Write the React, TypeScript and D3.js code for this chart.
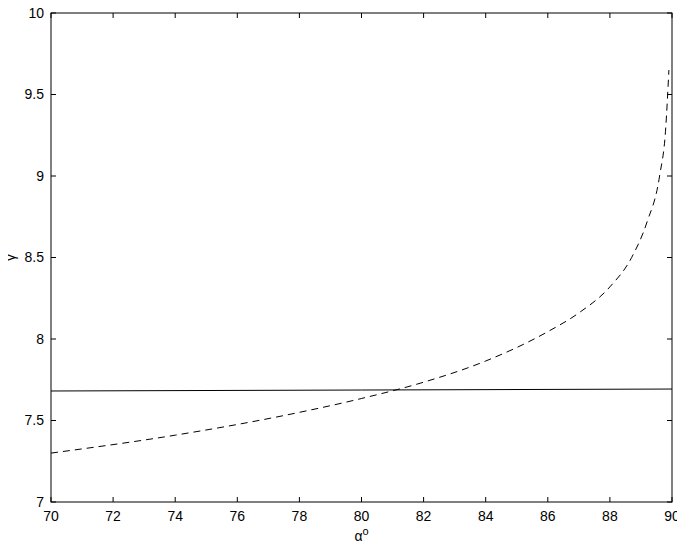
import * as d3 from "d3";
import { useEffect, useRef } from "react";

// x axis: alpha in degrees
const xTicks = [70, 72, 74, 76, 78, 80, 82, 84, 86, 88, 90];
const yTicks = [7, 7.5, 8, 8.5, 9, 9.5, 10];

// solid curve (nearly flat)
const solidAlpha = [70, 80, 90];
const solidGamma = [7.681, 7.687, 7.693];

// dashed curve
const dashAlpha = [70, 74, 78, 80, 82, 84, 86, 87, 88, 88.7, 89.2, 89.6, 89.8, 89.9];
const dashGamma = [7.3, 7.41, 7.55, 7.635, 7.735, 7.865, 8.045, 8.16, 8.32, 8.5, 8.72, 9.0, 9.3, 9.65];

export default function App() {
  const ref = useRef<SVGSVGElement>(null);

  useEffect(() => {
    const width = 685;
    const height = 549;
    const m = { left: 51, right: 13, top: 13, bottom: 47 };

    const svg = d3.select(ref.current)
      .attr("width", width)
      .attr("height", height)
      .style("font-family", "'Liberation Sans', Arial, sans-serif");
    svg.selectAll("*").remove();

    const x = d3.scaleLinear().domain([70, 90]).range([m.left, width - m.right]);
    const y = d3.scaleLinear().domain([7, 10]).range([height - m.bottom, m.top]);

    svg.append("rect").attr("width", width).attr("height", height).attr("fill", "#fff");

    // box
    svg.append("rect")
      .attr("x", x(70)).attr("y", y(10))
      .attr("width", x(90) - x(70)).attr("height", y(7) - y(10))
      .attr("fill", "none").attr("stroke", "#000").attr("stroke-width", 1);

    const tl = 5;
    // x ticks (bottom and top, inward)
    const gx = svg.append("g");
    xTicks.forEach(t => {
      gx.append("line").attr("x1", x(t)).attr("x2", x(t)).attr("y1", y(7)).attr("y2", y(7) - tl).attr("stroke", "#000");
      gx.append("line").attr("x1", x(t)).attr("x2", x(t)).attr("y1", y(10)).attr("y2", y(10) + tl).attr("stroke", "#000");
      gx.append("text").attr("x", x(t)).attr("y", y(7) + 19).attr("text-anchor", "middle")
        .attr("font-size", 14).text(t);
    });

    const gy = svg.append("g");
    yTicks.forEach(t => {
      gy.append("line").attr("x1", x(70)).attr("x2", x(70) + tl).attr("y1", y(t)).attr("y2", y(t)).attr("stroke", "#000");
      gy.append("line").attr("x1", x(90)).attr("x2", x(90) - tl).attr("y1", y(t)).attr("y2", y(t)).attr("stroke", "#000");
      gy.append("text").attr("x", x(70) - 7).attr("y", y(t)).attr("dy", "0.35em").attr("text-anchor", "end")
        .attr("font-size", 14).text(t);
    });

    const line = d3.line<[number, number]>()
      .x(d => x(d[0]))
      .y(d => y(d[1]))
      .curve(d3.curveMonotoneX);

    svg.append("path")
      .attr("d", line(solidAlpha.map((a, i) => [a, solidGamma[i]] as [number, number])))
      .attr("fill", "none").attr("stroke", "#000").attr("stroke-width", 1);

    svg.append("path")
      .attr("d", line(dashAlpha.map((a, i) => [a, dashGamma[i]] as [number, number])))
      .attr("fill", "none").attr("stroke", "#000").attr("stroke-width", 1)
      .attr("stroke-dasharray", "7,5");

    // axis labels
    const xl = svg.append("text").attr("x", (x(70) + x(90)) / 2).attr("y", y(7) + 39)
      .attr("text-anchor", "middle").attr("font-size", 14);
    xl.append("tspan").text("α");
    xl.append("tspan").attr("dy", -6).attr("font-size", 11).text("o");

    svg.append("text")
      .attr("transform", `translate(15,${(y(7) + y(10)) / 2}) rotate(-90)`)
      .attr("text-anchor", "middle").attr("font-size", 14).text("γ");
  }, []);

  return <svg ref={ref} style={{ display: "block", margin: -8 }}></svg>;
}
